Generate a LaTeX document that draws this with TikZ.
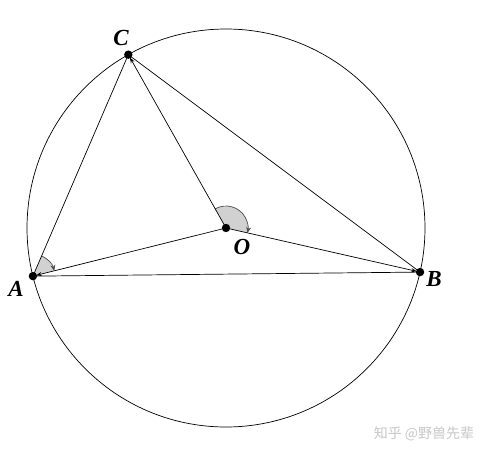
\documentclass[tikz,border=0pt]{standalone}
\usepackage{fontspec}
\setmainfont{Liberation Serif}
\newfontfamily\cjk{Noto Sans CJK SC}
\usetikzlibrary{arrows.meta, calc, positioning}
\definecolor{markgrey}{rgb}{0.82, 0.82, 0.82}

\begin{document}
\begin{tikzpicture}[x=1pt, y=1pt, line width=0.7pt]
        \useasboundingbox (0,0) rectangle (488,-456);
        \begin{scope}[every node/.style = {font=\bfseries\itshape\fontsize{23}{23}\selectfont}]
        \coordinate (O) at (226,-228);
        \draw (O) circle (199);
        \foreach \n/\a in {A/194, B/347.2, C/119.4}{
            \coordinate (\n) at ($(O)+(\a:199)$);
        }
        % angle marks
        \fill[markgrey] (A) -- ++(66.8:22) arc (66.8:14:22) -- cycle;
        \draw[-{Stealth[length=6pt, width=5pt]}, black!70] ($(A)+(66.8:22)$) arc (66.8:14:22);
        \fill[markgrey] (O) -- ++(119.4:22) arc (119.4:-12.8:22) -- cycle;
        \draw[-{Stealth[length=6pt, width=5pt]}, black!70] ($(O)+(119.4:22)$) arc (119.4:-12.8:22);
        % triangle and radii
        \draw (A) -- (B) -- (C) -- (A);
        \foreach \n in {A, B, C}{
            \draw[-{Stealth[length=6pt, width=4pt, open]}, shorten >=3pt] (O) -- (\n);
        }
        \foreach \n in {A, B, C, O}{
            \fill (\n) circle (4.2);
        }
        \node (LA) at (16,-289) {A};
        \node (LB) at (434,-279) {B};
        \node (LC) at (121,-38) {C};
        \node (LO) at (242,-247) {O};
        \end{scope}
        \node[text=black!22, font=\cjk\fontsize{14}{14}\selectfont] (WM) at (424,-434) {知乎 @野兽先辈};
    \end{tikzpicture}
\end{document}
